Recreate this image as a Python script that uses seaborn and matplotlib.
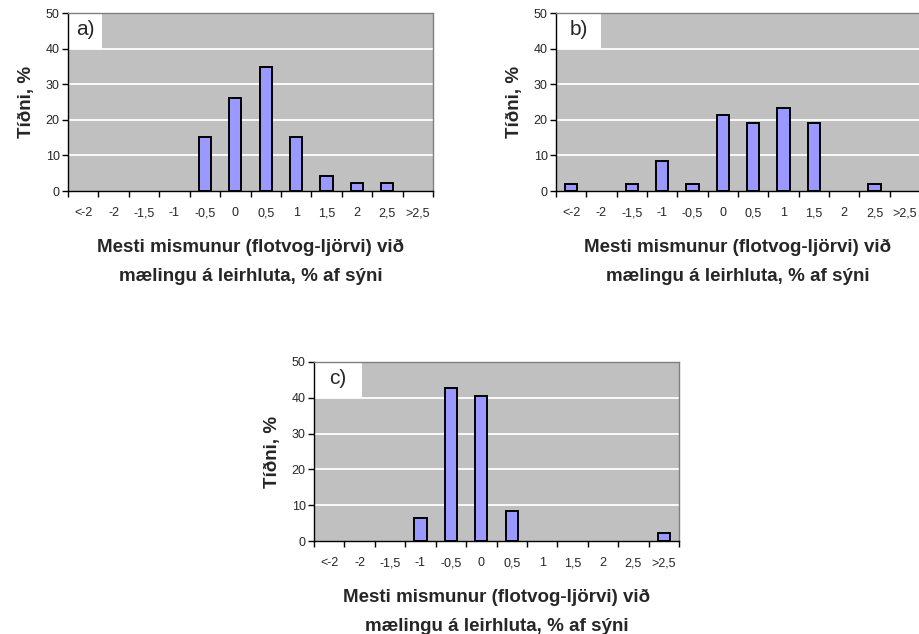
import matplotlib
matplotlib.use("Agg")
import matplotlib.pyplot as plt
import seaborn as sns
from matplotlib.patches import Rectangle

# =========================
# DATA
# =========================

categories = ["<-2", "-2", "-1,5", "-1", "-0,5", "0", "0,5", "1", "1,5", "2", "2,5", ">2,5"]
values_a = [0, 0, 0, 0, 15.2, 26.1, 34.8, 15.2, 4.3, 2.2, 2.2, 0]
values_b = [2.1, 0, 2.1, 8.5, 2.1, 21.3, 19.1, 23.4, 19.1, 0, 2.1, 0]
values_c = [0, 0, 0, 6.4, 42.6, 40.4, 8.5, 0, 0, 0, 0, 2.1]
yticks = [0, 10, 20, 30, 40, 50]

xlabel = "Mesti mismunur (flotvog-ljörvi) við\nmælingu á leirhluta, % af sýni"
ylabel = "Tíðni, %"

# =========================
# STYLE
# =========================

sns.set_style("white")
plt.rcParams["font.family"] = ["Liberation Sans", "DejaVu Sans"]

W, H = 919, 634
fig = plt.figure(figsize=(W / 100, H / 100), dpi=100)


def px_axes(left, top, right, bottom):
    return fig.add_axes([left / W, 1 - bottom / H, (right - left) / W, (bottom - top) / H])


def draw_panel(ax, values, tag, box_w):
    sns.barplot(x=categories, y=values, order=categories, color="#9999FF",
                saturation=1, edgecolor="black", linewidth=1.4, width=0.4, ax=ax)
    # excel leaves empty classes blank
    for p in ax.patches:
        if p.get_height() == 0:
            p.set_visible(False)

    ax.set_facecolor("#C0C0C0")
    ax.set_xlim(-0.5, len(categories) - 0.5)
    ax.set_ylim(0, 50)
    ax.set_yticks(yticks)
    for y in yticks[1:-1]:
        ax.axhline(y, color="white", lw=1.3, zorder=0.5)

    # label box
    ax.add_patch(Rectangle((-0.5, 40), box_w, 10, facecolor="white",
                           edgecolor="none", zorder=0.8))
    ax.text(-0.5 + box_w / 2, 45.3, tag, ha="center", va="center", fontsize=15)

    for s in ["top", "right"]:
        ax.spines[s].set_color("#808080")
        ax.spines[s].set_linewidth(1.0)
    for s in ["left", "bottom"]:
        ax.spines[s].set_color("black")
        ax.spines[s].set_linewidth(1.0)

    ax.set_xticks(range(len(categories)))
    ax.set_xticklabels(categories)
    ax.set_xticks([i - 0.5 for i in range(len(categories) + 1)], minor=True)
    ax.tick_params(axis="x", which="major", length=0, pad=18, labelsize=9)
    ax.tick_params(axis="x", which="minor", length=4, width=1, color="black",
                   direction="out", bottom=True)
    ax.tick_params(axis="y", length=4, width=1, color="black", direction="out",
                   left=True, labelsize=9, pad=2)
    for lab in ax.get_xticklabels():
        lab.set_va("baseline")

    ax.set_xlabel(xlabel, fontsize=13.5, fontweight="bold", labelpad=14,
                  linespacing=1.95)
    ax.set_ylabel(ylabel, fontsize=13.5, fontweight="bold", labelpad=8)


ax_a = px_axes(68, 13, 433, 191)
draw_panel(ax_a, values_a, "a)", 1.12)

ax_b = px_axes(556, 13, 920, 191)
draw_panel(ax_b, values_b, "b)", 1.49)

ax_c = px_axes(314, 362, 679, 541)
draw_panel(ax_c, values_c, "c)", 1.58)

plt.savefig("out.png", dpi=100)
